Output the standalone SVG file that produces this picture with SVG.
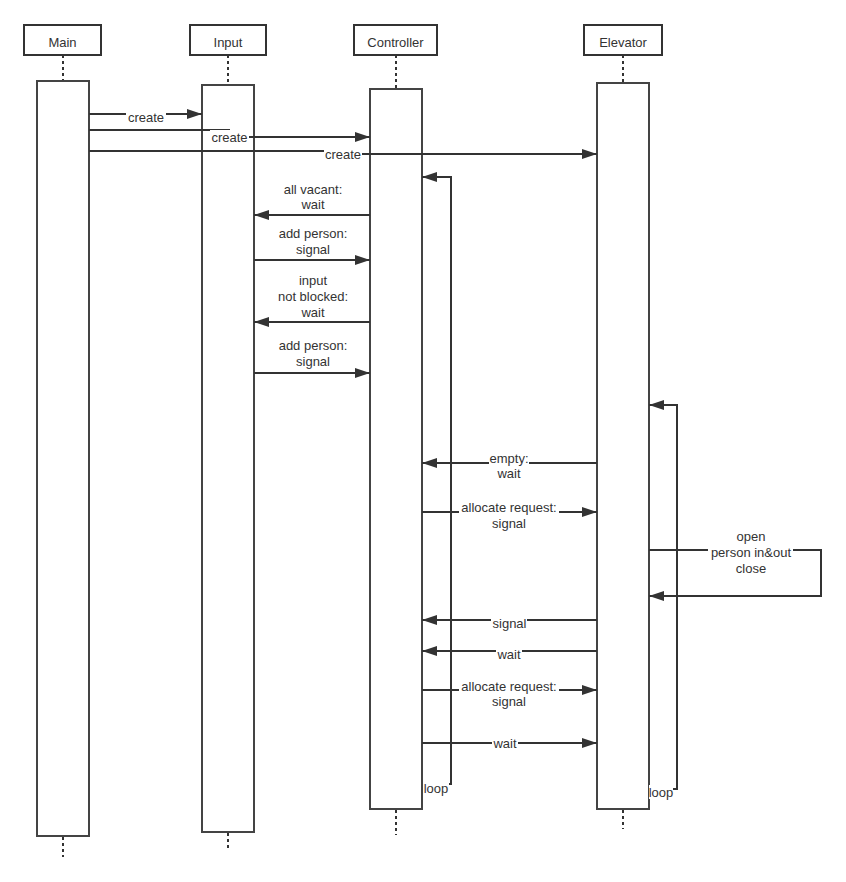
<svg xmlns="http://www.w3.org/2000/svg" width="846" height="882" viewBox="0 0 846 882">
<defs>
<marker id="ah" markerUnits="userSpaceOnUse" markerWidth="16" markerHeight="11" refX="15" refY="5" orient="auto">
<path d="M0,0 L15,5 L0,10 Z" fill="#333"/>
</marker>
<style>
.hd{fill:#fff;stroke:#333;stroke-width:2}
.act{fill:#fff;stroke:#444;stroke-width:2}
.life{stroke:#333;stroke-width:2;stroke-dasharray:3 3;fill:none}
.c{fill:none;stroke:#333;stroke-width:2}
.a{marker-end:url(#ah)}
.bg{fill:#fff}
text{font-family:"Liberation Sans",Arial,sans-serif;font-size:13px;fill:#333;text-anchor:middle}
</style>
</defs>
<rect width="846" height="882" fill="#fff"/>

<g id="main">
<rect class="hd" x="24" y="25" width="77" height="30"/>
<text x="62.5" y="46.5">Main</text>
<line class="life" x1="63" y1="55" x2="63" y2="81"/>
<rect class="act" x="37" y="81" width="52" height="755"/>
<line class="life" x1="63" y1="837" x2="63" y2="857"/>
</g>
<g id="input">
<rect class="hd" x="190" y="25" width="76" height="30"/>
<text x="228" y="46.5">Input</text>
<line class="life" x1="228" y1="55" x2="228" y2="85"/>
<rect class="act" x="202" y="85" width="52" height="747"/>
<line class="life" x1="228" y1="833" x2="228" y2="850"/>
</g>
<g id="controller">
<rect class="hd" x="354" y="25" width="83" height="30"/>
<text x="395.5" y="46.5">Controller</text>
<line class="life" x1="396" y1="55" x2="396" y2="89"/>
<rect class="act" x="370" y="89" width="52" height="720"/>
<line class="life" x1="396" y1="810" x2="396" y2="835"/>
</g>
<g id="elevator">
<rect class="hd" x="584" y="25" width="78" height="30"/>
<text x="623" y="46.5">Elevator</text>
<line class="life" x1="623" y1="55" x2="623" y2="83"/>
<rect class="act" x="597" y="83" width="52" height="726"/>
<line class="life" x1="623" y1="810" x2="623" y2="829"/>
</g>

<g id="connectors">
<path class="c a" d="M89,114 H202"/>
<rect class="bg" x="126" y="110" width="40" height="14"/>
<text x="146" y="121.5">create</text>

<path class="c a" d="M89,130 H229 V137 H370"/>
<rect class="bg" x="210" y="130" width="39" height="14"/>
<text x="229.5" y="141.5">create</text>

<path class="c a" d="M89,151 H343 V154 H597"/>
<rect class="bg" x="324" y="147" width="38" height="14"/>
<text x="343" y="158.5">create</text>

<path class="c a" d="M436,784 H451 V177 H422"/>
<rect class="bg" x="423" y="781" width="26" height="14"/>
<text x="436" y="792.5">loop</text>

<path class="c a" d="M661,789 H677 V405 H649"/>
<rect class="bg" x="649" y="785" width="24" height="14"/>
<text x="661" y="796.5">loop</text>

<path class="c a" d="M370,215 H254"/>
<text x="313" y="193.5">all vacant:</text>
<text x="313" y="208.5">wait</text>

<path class="c a" d="M254,260 H370"/>
<text x="313" y="237.5">add person:</text>
<text x="313" y="253.5">signal</text>

<path class="c a" d="M370,322 H254"/>
<text x="313" y="284.5">input</text>
<text x="313" y="300.5">not blocked:</text>
<text x="313" y="316.5">wait</text>

<path class="c a" d="M254,373 H370"/>
<text x="313" y="349.5">add person:</text>
<text x="313" y="365.5">signal</text>

<path class="c a" d="M597,463 H422"/>
<rect class="bg" x="489" y="452" width="40" height="28"/>
<text x="509" y="462.5">empty:</text>
<text x="509" y="477.5">wait</text>

<path class="c a" d="M422,512 H597"/>
<rect class="bg" x="459" y="500" width="100" height="30"/>
<text x="509" y="511.5">allocate request:</text>
<text x="509" y="527.5">signal</text>

<path class="c a" d="M649,550 H821 V596 H649"/>
<rect class="bg" x="708" y="529" width="85" height="46"/>
<text x="751" y="540.5">open</text>
<text x="751" y="556.5">person in&amp;out</text>
<text x="751" y="572.5">close</text>

<path class="c a" d="M597,620 H422"/>
<rect class="bg" x="491" y="616" width="36" height="14"/>
<text x="509.5" y="627.5">signal</text>

<path class="c a" d="M597,651 H422"/>
<rect class="bg" x="496" y="647" width="26" height="14"/>
<text x="509" y="658.5">wait</text>

<path class="c a" d="M422,690 H597"/>
<rect class="bg" x="459" y="679" width="100" height="30"/>
<text x="509" y="690.5">allocate request:</text>
<text x="509" y="705.5">signal</text>

<path class="c a" d="M422,743 H597"/>
<rect class="bg" x="492" y="736" width="26" height="14"/>
<text x="505" y="747.5">wait</text>
</g>
</svg>
